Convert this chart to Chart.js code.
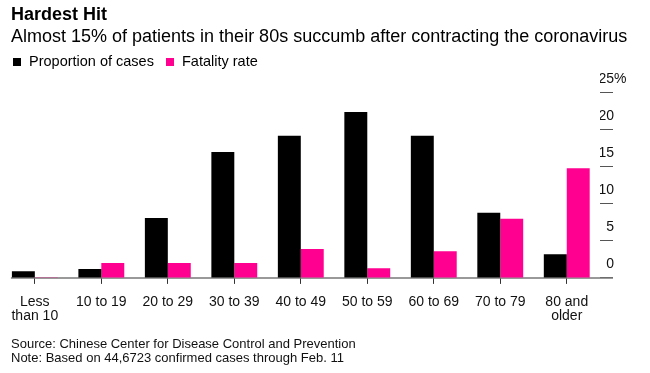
<!DOCTYPE html>
<html>
<head>
<meta charset="utf-8">
<script src="https://cdn.jsdelivr.net/npm/chart.js@4"></script>
<style>
  body { margin: 0; background: #fff; }
  #wrap { position: relative; width: 650px; height: 373px; overflow: hidden; font-family: "Liberation Sans", Arial, sans-serif; color: #000; }
  #chart { position: absolute; left: 0; top: 0; }
  .txt { position: absolute; left: 11px; white-space: nowrap; line-height: 1; }
  .title { top: 4.8px; font-size: 18px; font-weight: bold; }
  .sub { top: 27px; font-size: 18px; }
  .legend { top: 53.7px; font-size: 14.5px; left: 13px; }
  .legend span.box { display: inline-block; width: 8px; height: 8px; margin-right: 8px; vertical-align: 0px; }
  .legend span.item { margin-right: 8px; }
  .src { top: 337px; font-size: 13px; color: #111; }
  .note { top: 350.5px; font-size: 13px; color: #111; }
</style>
</head>
<body>
<div id="wrap">
  <canvas id="chart" width="650" height="373"></canvas>
  <div class="txt title">Hardest Hit</div>
  <div class="txt sub">Almost 15% of patients in their 80s succumb after contracting the coronavirus</div>
  <div class="txt legend"><span class="box" style="background:#000"></span><span class="item">Proportion of cases</span> <span class="box" style="background:#ff0090"></span>Fatality rate</div>
  <div class="txt src">Source: Chinese Center for Disease Control and Prevention</div>
  <div class="txt note">Note: Based on 44,6723 confirmed cases through Feb. 11</div>
</div>
<script>
// age groups (multi-line labels as arrays)
const ageGroups = [['Less', 'than 10'], '10 to 19', '20 to 29', '30 to 39', '40 to 49', '50 to 59', '60 to 69', '70 to 79', ['80 and', 'older']];
// percent of confirmed cases
const caseShare = [0.9, 1.2, 8.1, 17.0, 19.2, 22.4, 19.2, 8.8, 3.2];
// fatality rate, percent
const fatalityRate = [0.1, 2.0, 2.0, 2.0, 3.9, 1.3, 3.6, 8.0, 14.8];
const yMin = 0, yMax = 25, yStep = 5;

const BLACK = '#000000';
const PINK = '#ff0090';
const FONT = { family: '"Liberation Sans", Arial, sans-serif', size: 14, lineHeight: 1.0 };
const Y_TICK_LEN = 13;
const Y_LABEL_OFFSET = -14;

// baseline under the bars, from first bar edge to the end of the y ticks
const baseline = {
  id: 'baseline',
  beforeDatasetsDraw(chart) {
    const { ctx, scales } = chart;
    const y0 = scales.y.getPixelForValue(0);
    const first = chart.getDatasetMeta(0).data[0];
    const x0 = first.x - first.width / 2 - 1;
    const x1 = scales.y.left + Y_TICK_LEN;
    ctx.save();
    ctx.strokeStyle = '#777';
    ctx.lineWidth = 1.5;
    ctx.beginPath();
    ctx.moveTo(x0, y0);
    ctx.lineTo(x1, y0);
    ctx.stroke();
    ctx.restore();
  }
};

// "%" sign after the top tick label
const percentSign = {
  id: 'percentSign',
  afterDraw(chart) {
    const { ctx } = chart;
    const ys = chart.scales.y;
    ctx.save();
    ctx.font = `${FONT.size}px ${FONT.family}`;
    ctx.fillStyle = '#111';
    ctx.textAlign = 'left';
    ctx.textBaseline = 'middle';
    ctx.fillText('%', ys.right, ys.getPixelForValue(yMax) + Y_LABEL_OFFSET);
    ctx.restore();
  }
};

new Chart(document.getElementById('chart'), {
  type: 'bar',
  data: {
    labels: ageGroups,
    datasets: [
      { label: 'Proportion of cases', data: caseShare, backgroundColor: BLACK },
      { label: 'Fatality rate', data: fatalityRate, backgroundColor: PINK }
    ]
  },
  options: {
    responsive: false,
    devicePixelRatio: 1,
    animation: false,
    layout: { padding: { left: 1.5, right: 36, top: 92.7, bottom: 38.3 } },
    datasets: { bar: { categoryPercentage: 0.69, barPercentage: 1.0 } },
    plugins: { legend: { display: false }, title: { display: false }, tooltip: { enabled: false } },
    scales: {
      x: {
        grid: { drawOnChartArea: false, offset: false, tickLength: 6, color: '#333', lineWidth: 1 },
        border: { display: false },
        ticks: { color: '#111', font: FONT, padding: 11.4, maxRotation: 0, autoSkip: false }
      },
      y: {
        position: 'right',
        min: yMin, max: yMax,
        grid: { drawOnChartArea: false, tickLength: Y_TICK_LEN, color: '#555', lineWidth: 1 },
        border: { display: false },
        ticks: {
          stepSize: yStep, color: '#111', font: FONT,
          crossAlign: 'far', padding: 0, labelOffset: Y_LABEL_OFFSET,
          callback: v => String(v)
        },
        afterFit(scale) { scale.width = 14; }
      }
    }
  },
  plugins: [baseline, percentSign]
});
</script>
</body>
</html>
